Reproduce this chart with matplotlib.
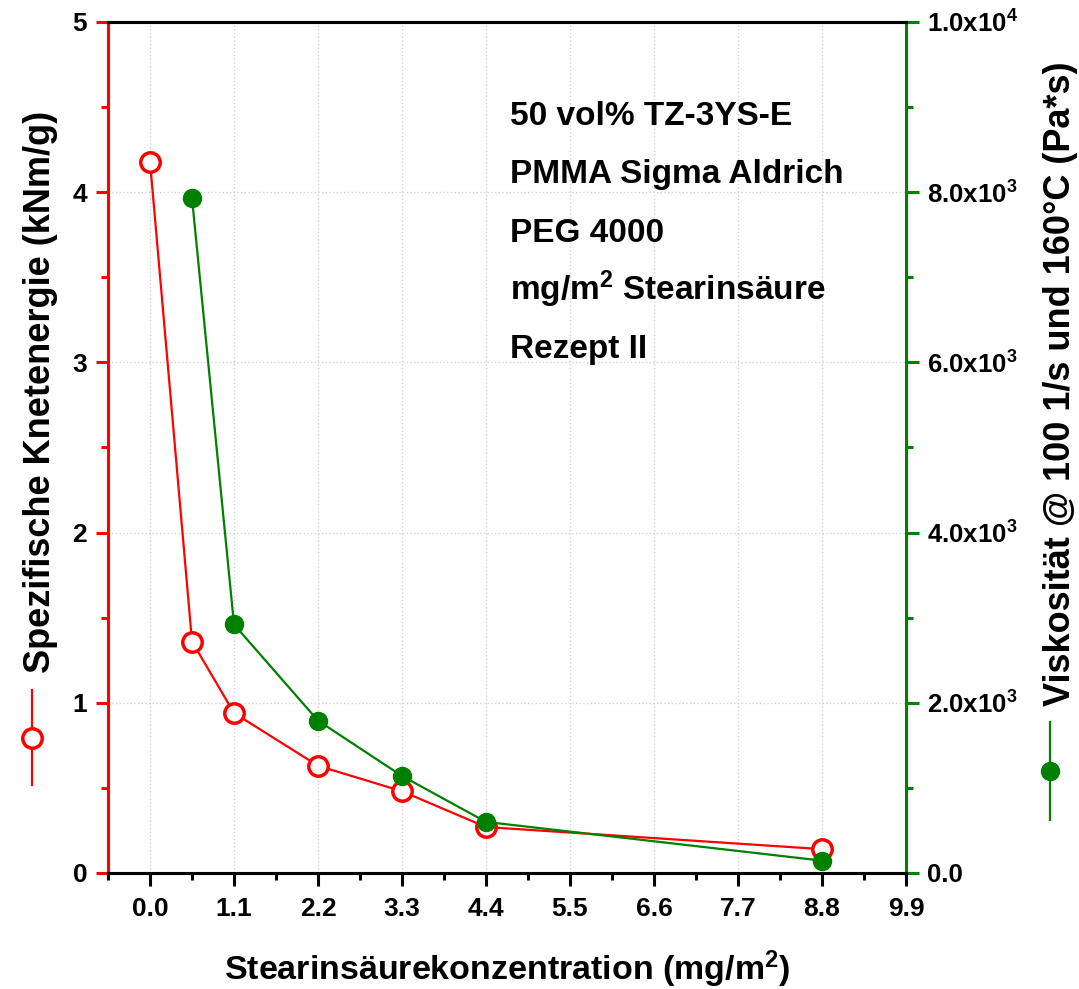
import numpy as np
import matplotlib
matplotlib.use("Agg")
import matplotlib.pyplot as plt
from matplotlib.ticker import MultipleLocator, FuncFormatter

plt.rcParams['font.family'] = ['Liberation Sans', 'DejaVu Sans']
plt.rcParams['font.weight'] = 'bold'
plt.rcParams['mathtext.fontset'] = 'custom'
plt.rcParams['mathtext.rm'] = 'Liberation Sans:bold'
plt.rcParams['mathtext.bf'] = 'Liberation Sans:bold'
plt.rcParams['mathtext.it'] = 'Liberation Sans:bold'
plt.rcParams['mathtext.default'] = 'bf'

# data
x_energie = [0.0, 0.55, 1.1, 2.2, 3.3, 4.4, 8.8]
energie = [4.18, 1.36, 0.94, 0.63, 0.48, 0.27, 0.14]
x_visk = [0.55, 1.1, 2.2, 3.3, 4.4, 8.8]
visk = [7930, 2920, 1790, 1140, 600, 145]
xticks = [0.0, 1.1, 2.2, 3.3, 4.4, 5.5, 6.6, 7.7, 8.8, 9.9]
info = ["50 vol% TZ-3YS-E", "PMMA Sigma Aldrich", "PEG 4000",
        "mg/m$^{2}$ Stearinsäure", "Rezept II"]

red = '#ff0000'
green = '#008000'

fig = plt.figure(figsize=(10.79, 9.89), dpi=100)
ax = fig.add_axes([0.1001, 0.1173, 0.7396, 0.8605])
ax2 = ax.twinx()

ax.plot(x_energie, energie, color=red, lw=1.6, marker='o', ms=14,
        mfc='white', mec=red, mew=2.5, zorder=3)
ax2.plot(x_visk, visk, color=green, lw=1.6, marker='o', ms=13,
         mfc=green, mec=green, zorder=3)

ax.set_xlim(-0.55, 9.9)
ax.set_ylim(0, 5)
ax2.set_ylim(0, 10000)
ax.set_xticks(xticks)
ax.set_xticklabels([f"{v:.1f}" for v in xticks])
ax.xaxis.set_minor_locator(MultipleLocator(0.55))
ax.yaxis.set_major_locator(MultipleLocator(1))
ax.yaxis.set_minor_locator(MultipleLocator(0.5))
ax2.yaxis.set_major_locator(MultipleLocator(2000))
ax2.yaxis.set_minor_locator(MultipleLocator(1000))


def sci(v, pos):
    if v <= 0:
        return "0.0"
    e = int(np.floor(np.log10(v)))
    return r"$%.1fx10^{%d}$" % (v / 10 ** e, e)


ax2.yaxis.set_major_formatter(FuncFormatter(sci))

ax.grid(True, which='major', color='#d2d2d2', ls=':', lw=1.0)
ax.set_axisbelow(True)

for a in (ax, ax2):
    for s in a.spines.values():
        s.set_linewidth(2.2)
ax.spines['left'].set_color(red)
ax2.spines['left'].set_visible(False)
ax2.spines['right'].set_color(green)
ax.spines['right'].set_visible(False)
ax.spines['top'].set_color('black')
ax.spines['bottom'].set_color('black')

ax.tick_params(axis='x', which='major', direction='out', length=9, width=2.2,
               labelsize=19, pad=8, top=False)
ax.tick_params(axis='x', which='minor', direction='out', length=5, width=2.2, top=False)
ax.tick_params(axis='y', which='major', direction='out', length=9, width=2.2,
               color=red, labelsize=19, pad=6)
ax.tick_params(axis='y', which='minor', direction='out', length=5, width=2.2, color=red)
ax2.tick_params(axis='y', which='major', direction='out', length=9, width=2.2,
                color=green, labelsize=18.5, pad=6)
ax2.tick_params(axis='y', which='minor', direction='out', length=5, width=2.2, color=green)

ax.set_xlabel("Stearinsäurekonzentration (mg/m$^{2}$)", fontsize=24.5,
              fontweight='bold', labelpad=20)

for i, t in enumerate(info):
    ax.text(0.504, 0.879 - i * 0.0685, t, transform=ax.transAxes,
            fontsize=24, fontweight='bold', va='baseline', ha='left')

# axis titles with legend symbols
fig.text(41 / 1079, 1 - 392 / 989, "Spezifische Knetenergie (kNm/g)",
         rotation=90, ha='center', va='center', fontsize=26, fontweight='bold')
fig.text(1061 / 1079, 1 - 384 / 989, "Viskosität @ 100 1/s und 160°C (Pa*s)",
         rotation=90, ha='center', va='center', fontsize=26, fontweight='bold')

fig.add_artist(plt.Line2D([32 / 1079] * 2, [1 - 690 / 989, 1 - 785 / 989],
                          color=red, lw=1.6, transform=fig.transFigure))
fig.add_artist(plt.Line2D([32 / 1079], [1 - 738 / 989], marker='o', ms=14,
                          mfc='white', mec=red, mew=2.5, transform=fig.transFigure))
fig.add_artist(plt.Line2D([1050 / 1079] * 2, [1 - 722 / 989, 1 - 820 / 989],
                          color=green, lw=1.6, transform=fig.transFigure))
fig.add_artist(plt.Line2D([1050 / 1079], [1 - 771 / 989], marker='o', ms=13,
                          mfc=green, mec=green, transform=fig.transFigure))

fig.savefig("out.png", dpi=100)
